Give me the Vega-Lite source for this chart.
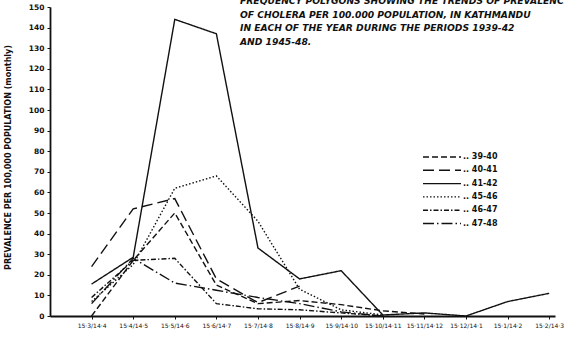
{
  "$schema": "https://vega.github.io/schema/vega-lite/v6.json",
  "width": 505,
  "height": 309,
  "autosize": {"type": "none"},
  "padding": {"left": 50, "top": 7, "right": 9, "bottom": 24},
  "background": "white",
  "config": {"view": {"stroke": null}, "font": "DejaVu Sans"},
  "title": {
    "text": [
      "FREQUENCY POLYGONS SHOWING THE TRENDS OF PREVALENCE",
      "OF CHOLERA PER 100.000 POPULATION, IN KATHMANDU",
      "IN EACH OF THE YEAR DURING THE PERIODS 1939-42",
      "AND  1945-48."
    ],
    "anchor": "start",
    "frame": "group",
    "orient": "top",
    "offset": -44,
    "dx": 190,
    "align": "left",
    "font": "DejaVu Sans",
    "fontSize": 9.2,
    "fontStyle": "italic",
    "fontWeight": "bold",
    "lineHeight": 13.5,
    "color": "#111"
  },
  "data": {
    "values": [
      {"period": "39-40", "month": "15·3/14·4", "prevalence": 0},
      {"period": "39-40", "month": "15·4/14·5", "prevalence": 27},
      {"period": "39-40", "month": "15·5/14·6", "prevalence": 50},
      {"period": "39-40", "month": "15·6/14·7", "prevalence": 15},
      {"period": "39-40", "month": "15·7/14·8", "prevalence": 6},
      {"period": "39-40", "month": "15·8/14·9", "prevalence": 7.5},
      {"period": "39-40", "month": "15·9/14·10", "prevalence": 5.5},
      {"period": "39-40", "month": "15·10/14·11", "prevalence": 2.5},
      {"period": "39-40", "month": "15·11/14·12", "prevalence": 1},

      {"period": "40-41", "month": "15·3/14·4", "prevalence": 24},
      {"period": "40-41", "month": "15·4/14·5", "prevalence": 52},
      {"period": "40-41", "month": "15·5/14·6", "prevalence": 57},
      {"period": "40-41", "month": "15·6/14·7", "prevalence": 18},
      {"period": "40-41", "month": "15·7/14·8", "prevalence": 6.5},
      {"period": "40-41", "month": "15·8/14·9", "prevalence": 14.5},

      {"period": "41-42", "month": "15·3/14·4", "prevalence": 15.5},
      {"period": "41-42", "month": "15·4/14·5", "prevalence": 28.5},
      {"period": "41-42", "month": "15·5/14·6", "prevalence": 144},
      {"period": "41-42", "month": "15·6/14·7", "prevalence": 137},
      {"period": "41-42", "month": "15·7/14·8", "prevalence": 33},
      {"period": "41-42", "month": "15·8/14·9", "prevalence": 18},
      {"period": "41-42", "month": "15·9/14·10", "prevalence": 22},
      {"period": "41-42", "month": "15·10/14·11", "prevalence": 0.5},
      {"period": "41-42", "month": "15·11/14·12", "prevalence": 1.5},
      {"period": "41-42", "month": "15·12/14·1", "prevalence": 0},
      {"period": "41-42", "month": "15·1/14·2", "prevalence": 7},
      {"period": "41-42", "month": "15·2/14·3", "prevalence": 11},

      {"period": "45-46", "month": "15·3/14·4", "prevalence": 7},
      {"period": "45-46", "month": "15·4/14·5", "prevalence": 25},
      {"period": "45-46", "month": "15·5/14·6", "prevalence": 62},
      {"period": "45-46", "month": "15·6/14·7", "prevalence": 68},
      {"period": "45-46", "month": "15·7/14·8", "prevalence": 46},
      {"period": "45-46", "month": "15·8/14·9", "prevalence": 13},
      {"period": "45-46", "month": "15·9/14·10", "prevalence": 3},
      {"period": "45-46", "month": "15·10/14·11", "prevalence": 0.5},

      {"period": "46-47", "month": "15·3/14·4", "prevalence": 9},
      {"period": "46-47", "month": "15·4/14·5", "prevalence": 27},
      {"period": "46-47", "month": "15·5/14·6", "prevalence": 28},
      {"period": "46-47", "month": "15·6/14·7", "prevalence": 6},
      {"period": "46-47", "month": "15·7/14·8", "prevalence": 3.5},
      {"period": "46-47", "month": "15·8/14·9", "prevalence": 3},
      {"period": "46-47", "month": "15·9/14·10", "prevalence": 1.5},
      {"period": "46-47", "month": "15·10/14·11", "prevalence": 0},

      {"period": "47-48", "month": "15·3/14·4", "prevalence": 6},
      {"period": "47-48", "month": "15·4/14·5", "prevalence": 28},
      {"period": "47-48", "month": "15·5/14·6", "prevalence": 16},
      {"period": "47-48", "month": "15·6/14·7", "prevalence": 12.5},
      {"period": "47-48", "month": "15·7/14·8", "prevalence": 9},
      {"period": "47-48", "month": "15·8/14·9", "prevalence": 6},
      {"period": "47-48", "month": "15·9/14·10", "prevalence": 2},
      {"period": "47-48", "month": "15·10/14·11", "prevalence": 0}
    ]
  },
  "mark": {"type": "line", "color": "#111", "strokeJoin": "miter"},
  "encoding": {
    "x": {
      "field": "month",
      "type": "ordinal",
      "sort": ["15·3/14·4", "15·4/14·5", "15·5/14·6", "15·6/14·7", "15·7/14·8", "15·8/14·9", "15·9/14·10", "15·10/14·11", "15·11/14·12", "15·12/14·1", "15·1/14·2", "15·2/14·3"],
      "scale": {"type": "point", "padding": 0.57, "align": 0.877},
      "axis": {
        "title": null,
        "labelAngle": 0,
        "labelFontSize": 6,
        "labelColor": "#111",
        "labelPadding": 3,
        "labelOverlap": false,
        "tickSize": 3,
        "tickColor": "#111",
        "domainColor": "#111",
        "domainWidth": 1.8,
        "grid": false
      }
    },
    "y": {
      "field": "prevalence",
      "type": "quantitative",
      "scale": {"domain": [0, 150]},
      "axis": {
        "values": [0, 10, 20, 30, 40, 50, 60, 70, 80, 90, 100, 110, 120, 130, 140, 150],
        "title": "PREVALENCE PER 100,000 POPULATION (monthly)",
        "titleFontSize": 8,
        "titleFontWeight": "bold",
        "titleColor": "#111",
        "titleX": -38,
        "titleY": 150,
        "titleAnchor": "middle",
        "labelFontSize": 7.5,
        "labelFontWeight": "bold",
        "labelColor": "#111",
        "labelPadding": 3,
        "tickSize": 3,
        "tickColor": "#111",
        "domainColor": "#111",
        "domainWidth": 1.8,
        "grid": false
      }
    },
    "strokeDash": {
      "field": "period",
      "type": "nominal",
      "scale": {
        "domain": ["39-40", "40-41", "41-42", "45-46", "46-47", "47-48"],
        "range": [[6, 3], [11, 5], [1, 0], [1.5, 2], [5, 2, 1.5, 2], [11, 3, 1.5, 3]]
      },
      "legend": {
        "orient": "none",
        "legendX": 386,
        "legendY": 144,
        "title": null,
        "padding": 0,
        "symbolType": "M-3.8,0H3.8",
        "symbolSize": 100,
        "symbolStrokeColor": "#111",
        "symbolStrokeWidth": 1.5,
        "labelExpr": "'.. ' + datum.label",
        "labelOffset": 15,
        "labelFontSize": 8,
        "labelFontWeight": "bold",
        "labelColor": "#111",
        "rowPadding": 3.3
      }
    },
    "strokeWidth": {
      "field": "period",
      "type": "nominal",
      "scale": {
        "domain": ["39-40", "40-41", "41-42", "45-46", "46-47", "47-48"],
        "range": [1.4, 1.4, 2.2, 1.4, 1.4, 1.4]
      },
      "legend": null
    }
  }
}
